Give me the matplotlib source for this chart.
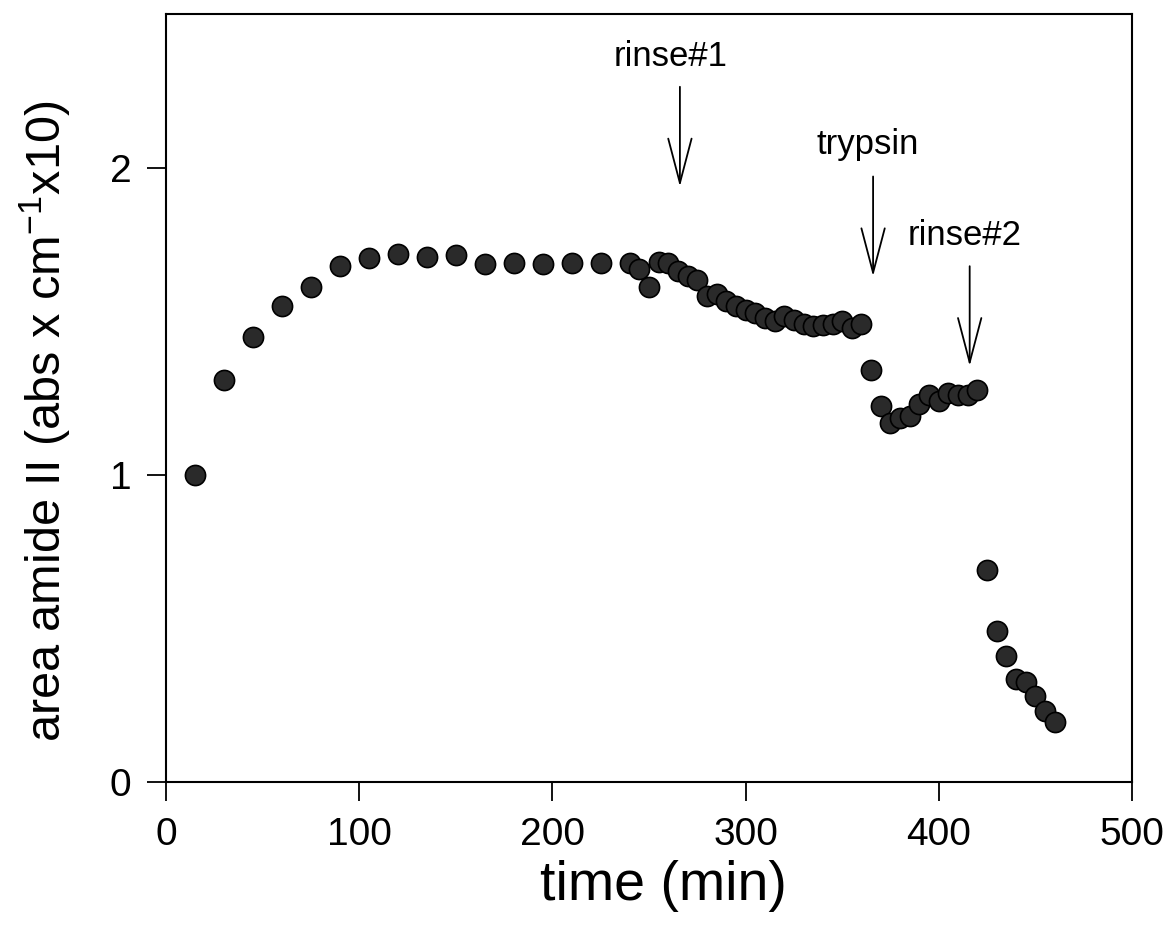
import numpy as np
import matplotlib
matplotlib.use('Agg')
import matplotlib.pyplot as plt

plt.rcParams['font.family'] = ['Liberation Sans', 'DejaVu Sans']
plt.rcParams['mathtext.fontset'] = 'custom'
plt.rcParams['mathtext.rm'] = 'Liberation Sans'
plt.rcParams['mathtext.it'] = 'Liberation Sans'

# data
time_min = [15, 30, 45, 60, 75, 90, 105, 120, 135, 150, 165, 180, 195, 210, 225,
            240, 245, 250, 255, 260, 265, 270, 275, 280, 285, 290, 295, 300,
            305, 310, 315, 320, 325, 330, 335, 340, 345, 350, 355, 360,
            365, 370, 375, 380, 385, 390, 395, 400, 405, 410, 415, 420,
            425, 430, 435, 440, 445, 450, 455, 460]
area = [1.00, 1.31, 1.45, 1.55, 1.61, 1.68, 1.705, 1.72, 1.71, 1.715, 1.685, 1.69, 1.685, 1.69, 1.69,
        1.69, 1.67, 1.61, 1.693, 1.689, 1.662, 1.646, 1.635, 1.581, 1.587, 1.565, 1.549, 1.538,
        1.527, 1.511, 1.50, 1.516, 1.505, 1.491, 1.484, 1.489, 1.491, 1.50, 1.478, 1.491,
        1.34, 1.225, 1.17, 1.185, 1.19, 1.23, 1.26, 1.24, 1.265, 1.26, 1.26, 1.275,
        0.69, 0.49, 0.41, 0.335, 0.325, 0.28, 0.23, 0.195]

events = ['rinse#1', 'trypsin', 'rinse#2']
event_time = [266, 366, 416]
arrow_top = [2.263, 1.971, 1.679]
arrow_tip = [1.938, 1.646, 1.354]
label_x = [261, 363, 413.5]
label_y = [2.36, 2.075, 1.78]

fig = plt.figure(figsize=(11.66, 9.38), dpi=100)
ax = fig.add_axes([0.1424, 0.1663, 0.8284, 0.8188])

ax.plot(time_min, area, 'o', ms=14.5, mfc='#2a2a2a', mec='black', mew=1.2)

for name, t, y0, y1, lx, ly in zip(events, event_time, arrow_top, arrow_tip, label_x, label_y):
    ax.annotate('', xy=(t, y1), xytext=(t, y0),
                arrowprops=dict(arrowstyle='->,head_length=1.6,head_width=0.42',
                                lw=1.3, color='black', mutation_scale=20,
                                shrinkA=0, shrinkB=0))
    ax.text(lx, ly, name, fontsize=25, ha='center', va='center')

ax.set_xlim(0, 500)
ax.set_ylim(0, 2.5)
ax.set_xticks([0, 100, 200, 300, 400, 500])
ax.set_yticks([0, 1, 2])
ax.tick_params(direction='out', length=14, width=1.3, labelsize=28, pad=11)
for s in ax.spines.values():
    s.set_linewidth(1.5)

ax.set_xlabel('time (min)', fontsize=40)
ax.set_ylabel('area amide II (abs x cm$^{-1}$x10)', fontsize=35)
ax.xaxis.set_label_coords(0.515, -0.102)
ax.yaxis.set_label_coords(-0.096, 0.469)

fig.savefig('out.png', dpi=100)
